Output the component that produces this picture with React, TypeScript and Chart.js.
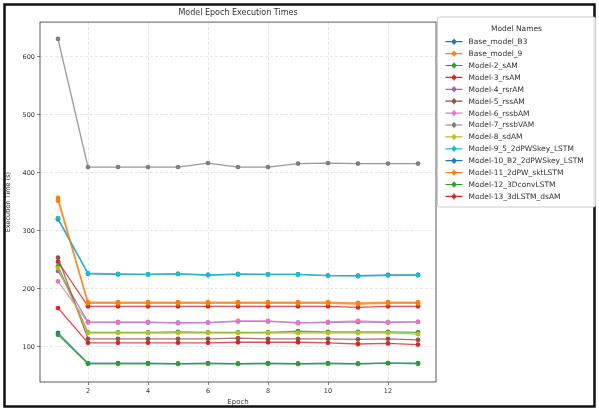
import React, { useEffect, useRef } from "react";
import { Chart, registerables } from "chart.js";

Chart.register(...registerables);

const epochs = [1, 2, 3, 4, 5, 6, 7, 8, 9, 10, 11, 12, 13];
const modelNames = [
  "Base_model_B3",
  "Base_model_9",
  "Model-2_sAM",
  "Model-3_rsAM",
  "Model-4_rsrAM",
  "Model-5_rssAM",
  "Model-6_rssbAM",
  "Model-7_rssbVAM",
  "Model-8_sdAM",
  "Model-9_5_2dPWSkey_LSTM",
  "Model-10_B2_2dPWSkey_LSTM",
  "Model-11_2dPW_sktLSTM",
  "Model-12_3DconvLSTM",
  "Model-13_3dLSTM_dsAM",
];
const colors = [
  "#1f77b4", "#ff7f0e", "#2ca02c", "#d62728", "#9467bd", "#8c564b", "#e377c2",
  "#7f7f7f", "#bcbd22", "#17becf", "#1f77b4", "#ff7f0e", "#2ca02c", "#d62728",
];

const baseB3 = [124, 72, 72, 72, 71, 72, 71, 72, 71, 72, 71, 72, 72];
const base9 = [357, 177, 177, 177, 177, 177, 177, 177, 177, 177, 176, 177, 177];
const model2 = [239, 125, 125, 125, 126, 125, 125, 125, 127, 126, 126, 126, 125];
const model3 = [247, 170, 170, 170, 170, 170, 170, 170, 170, 170, 168, 170, 170];
const model4 = [231, 143, 142, 142, 142, 142, 144, 144, 142, 142, 143, 142, 143];
const model5 = [254, 114, 114, 114, 114, 114, 115, 114, 114, 114, 113, 114, 112];
const model6 = [213, 142, 143, 143, 141, 142, 145, 145, 141, 143, 145, 143, 143];
const model7 = [631, 410, 410, 410, 410, 417, 410, 410, 416, 417, 416, 416, 416];
const model8 = [236, 124, 124, 124, 124, 124, 124, 124, 124, 124, 124, 124, 122];
const model9 = [322, 227, 226, 225, 226, 224, 226, 225, 225, 223, 222, 223, 224];
const model10 = [320, 226, 225, 225, 226, 224, 225, 225, 225, 223, 223, 224, 224];
const model11 = [352, 175, 175, 175, 175, 175, 175, 175, 175, 175, 174, 175, 175];
const model12 = [121, 71, 71, 71, 71, 71, 71, 71, 71, 71, 71, 72, 71];
const model13 = [167, 107, 107, 107, 107, 107, 108, 108, 108, 107, 105, 106, 104];

const seriesValues = [
  baseB3, base9, model2, model3, model4, model5, model6,
  model7, model8, model9, model10, model11, model12, model13,
];

// drawing order (lower is drawn on top)
const drawOrder = [20, 19, 18, 17, 16, 15, 14, 13, 12, 9, 11, 8, 7, 6];

const yTicks = [100, 200, 300, 400, 500, 600];
const xTicks = [2, 4, 6, 8, 10, 12];

const FONT = "'DejaVu Sans', sans-serif";

function withAlpha(hex: string, a: number) {
  const r = parseInt(hex.slice(1, 3), 16);
  const g = parseInt(hex.slice(3, 5), 16);
  const b = parseInt(hex.slice(5, 7), 16);
  return `rgba(${r},${g},${b},${a})`;
}

const framePlugin = {
  id: "frames",
  beforeDraw(chart: any) {
    const ctx = chart.ctx;
    ctx.save();
    ctx.fillStyle = "#ffffff";
    ctx.fillRect(0, 0, chart.width, chart.height);
    ctx.restore();
  },
  afterDraw(chart: any) {
    const ctx = chart.ctx;
    const a = chart.chartArea;
    ctx.save();
    ctx.strokeStyle = "#333333";
    ctx.lineWidth = 0.8;
    ctx.strokeRect(a.left, a.top, a.right - a.left, a.bottom - a.top);
    ctx.strokeStyle = "#111111";
    ctx.lineWidth = 2.5;
    ctx.strokeRect(4.5, 4.5, chart.width - 9, chart.height - 8);

    const lx = a.right + 1.5;
    const ly = 17;
    const lw = 158;
    const lh = 190;
    ctx.fillStyle = "rgba(255,255,255,0.9)";
    ctx.strokeStyle = "#cccccc";
    ctx.lineWidth = 1;
    ctx.beginPath();
    (ctx as any).roundRect(lx, ly, lw, lh, 2);
    ctx.fill();
    ctx.stroke();
    ctx.fillStyle = "#333333";
    ctx.font = `7.5px ${FONT}`;
    ctx.textAlign = "center";
    ctx.textBaseline = "middle";
    ctx.fillText("Model Names", lx + lw / 2, 29);
    ctx.textAlign = "left";
    chart.data.datasets.forEach((ds: any, i: number) => {
      const y = 41.7 + 11.9 * i;
      ctx.strokeStyle = ds.pointBackgroundColor;
      ctx.fillStyle = ds.pointBackgroundColor;
      ctx.lineWidth = 1.2;
      ctx.beginPath();
      ctx.moveTo(lx + 8, y);
      ctx.lineTo(lx + 25, y);
      ctx.moveTo(lx + 16.5, y - 3);
      ctx.lineTo(lx + 16.5, y + 3);
      ctx.stroke();
      ctx.beginPath();
      ctx.arc(lx + 16.5, y, 2.2, 0, Math.PI * 2);
      ctx.fill();
      ctx.fillStyle = "#333333";
      ctx.fillText(ds.label, lx + 31, y + 0.5);
    });
    ctx.restore();
  },
};

export default function App() {
  const canvasRef = useRef<HTMLCanvasElement | null>(null);

  useEffect(() => {
    if (!canvasRef.current) return;
    const datasets = modelNames.map((name, i) => ({
      label: name,
      data: epochs.map((e, j) => ({ x: e, y: seriesValues[i][j] })),
      borderColor: withAlpha(colors[i], 0.8),
      backgroundColor: colors[i],
      pointBackgroundColor: colors[i],
      pointBorderColor: colors[i],
      borderWidth: 1.3,
      pointRadius: 2.4,
      pointBorderWidth: 0,
      tension: 0,
      order: drawOrder[i],
    }));
    const chart = new Chart(canvasRef.current, {
      type: "line",
      data: { datasets },
      options: {
        animation: false,
        responsive: false,
        maintainAspectRatio: false,
        layout: { padding: { left: 4, right: 163, top: 0, bottom: 4 } },
        plugins: {
          legend: { display: false },
          tooltip: { enabled: false },
          title: {
            display: true,
            text: "Model Epoch Execution Times",
            fullSize: false,
            color: "#333333",
            font: { family: FONT, size: 8, weight: "normal" },
            padding: { top: 8.5, bottom: 4 },
          },
        },
        scales: {
          x: {
            type: "linear",
            min: 0.4,
            max: 13.6,
            afterBuildTicks: (s: any) => {
              s.ticks = xTicks.map((v) => ({ value: v }));
            },
            afterFit: (s: any) => {
              s.height = 24;
            },
            ticks: {
              color: "#333333",
              font: { family: FONT, size: 6.5 },
              padding: 2,
              maxRotation: 0,
              autoSkip: false,
            },
            grid: {
              color: "rgba(176,176,176,0.45)",
              lineWidth: 0.7,
              tickLength: 3,
              tickColor: "#555555",
            },
            border: { display: false, dash: [3, 2] },
            title: {
              display: true,
              text: "Epoch",
              color: "#333333",
              font: { family: FONT, size: 7 },
              padding: { top: 0, bottom: 0 },
            },
          },
          y: {
            type: "linear",
            min: 39.5,
            max: 660,
            afterBuildTicks: (s: any) => {
              s.ticks = yTicks.map((v) => ({ value: v }));
            },
            afterFit: (s: any) => {
              s.width = 36;
            },
            ticks: {
              color: "#333333",
              font: { family: FONT, size: 6.5 },
              padding: 2,
              autoSkip: false,
            },
            grid: {
              color: "rgba(176,176,176,0.45)",
              lineWidth: 0.7,
              tickLength: 3,
              tickColor: "#555555",
            },
            border: { display: false, dash: [3, 2] },
            title: {
              display: true,
              text: "Execution Time (s)",
              color: "#333333",
              font: { family: FONT, size: 6.5 },
              padding: { top: 0, bottom: 2 },
            },
          },
        },
      },
      plugins: [framePlugin],
    } as any);
    return () => chart.destroy();
  }, []);

  return (
    <div style={{ position: "fixed", left: 0, top: 0, width: 599, height: 410, background: "#fff" }}>
      <canvas ref={canvasRef} width={599} height={410} style={{ display: "block", width: 599, height: 410 }} />
    </div>
  );
}
